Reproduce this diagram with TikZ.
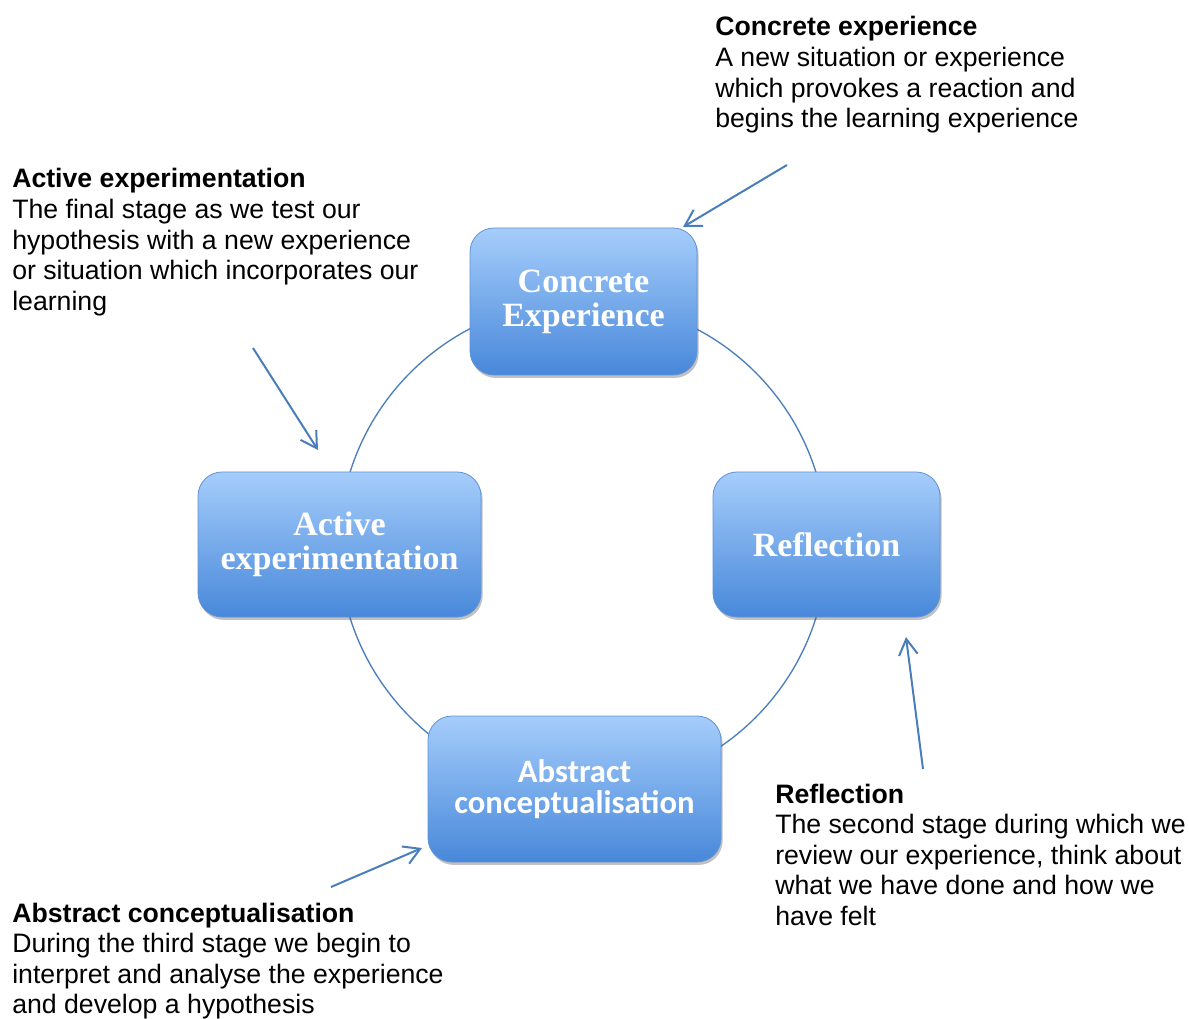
\documentclass[tikz,border=0pt]{standalone}
\usepackage{fontspec}
\setmainfont{Liberation Sans}
\newfontfamily\boxserif{Liberation Serif}
\newfontfamily\boxsans{Carlito}
\usetikzlibrary{arrows.meta,shadows}
\definecolor{lineblue}{RGB}{74,126,187}
\definecolor{boxtop}{RGB}{165,205,251}
\definecolor{boxbot}{RGB}{72,136,218}
\definecolor{boxedge}{RGB}{96,146,212}
\begin{document}
\begin{tikzpicture}[x=0.75pt,y=-0.75pt,
  stage/.style={rounded corners=18pt, draw=boxedge, line width=0.6pt,
    top color=boxtop, bottom color=boxbot, text=white, align=center, inner sep=0pt,
    drop shadow={shadow xshift=1.2pt,shadow yshift=-2.2pt,opacity=0.35,fill=black!70}},
  serifbox/.style={font=\boxserif\bfseries\fontsize{25.5}{25.5}\selectfont},
  sansbox/.style={font=\boxsans\bfseries\fontsize{24.5}{23.3}\selectfont},
  cyc/.style={draw=lineblue, line width=1pt},
  ann/.style={draw=lineblue, line width=1.5pt, -{Straight Barb[length=12pt,width=14pt]}},
  desc/.style={anchor=base west, inner sep=0pt, font=\fontsize{20}{22.9}\selectfont}
]
\useasboundingbox (0,0) rectangle (1189,1019);
% cycle
\coordinate (cyc) at (583,545);
\draw[cyc] (cyc) circle[radius=183pt];
% stages
\node[stage,serifbox,minimum width=170.25pt,minimum height=110.25pt] (ce) at (583.5,301.5) {Concrete\\Experience};
\node[stage,serifbox,minimum width=212.25pt,minimum height=108.75pt] (ae) at (339.5,544.5) {Active\\experimentation};
\node[stage,serifbox,minimum width=170.25pt,minimum height=108.75pt] (re) at (826.5,544.5) {Reflection};
\node[stage,sansbox,minimum width=219.75pt,minimum height=109.5pt] (ac) at (574.5,789) {Abstract\\conceptualisation};
% descriptions
\node[desc] (tce) at (715,36) {\begin{tabular}[t]{@{}l@{}}\textbf{Concrete experience}\\A new situation or experience\\which provokes a reaction and\\begins the learning experience\end{tabular}};
\node[desc] (tae) at (12,188) {\begin{tabular}[t]{@{}l@{}}\textbf{Active experimentation}\\The final stage as we test our\\hypothesis with a new experience\\or situation which incorporates our\\learning\end{tabular}};
\node[desc] (tre) at (775,803) {\begin{tabular}[t]{@{}l@{}}\textbf{Reflection}\\The second stage during which we\\review our experience, think about\\what we have done and how we\\have felt\end{tabular}};
\node[desc] (tac) at (12,922) {\begin{tabular}[t]{@{}l@{}}\textbf{Abstract conceptualisation}\\During the third stage we begin to\\interpret and analyse the experience\\and develop a hypothesis\end{tabular}};
% annotation arrows
\coordinate (a1s) at (787,165); \coordinate (a1e) at (683,227);
\coordinate (a2s) at (253,348); \coordinate (a2e) at (318,450);
\coordinate (a3s) at (923,769); \coordinate (a3e) at (906,637);
\coordinate (a4s) at (331,887); \coordinate (a4e) at (422,848);
\draw[ann] (a1s) -- (a1e);
\draw[ann] (a2s) -- (a2e);
\draw[ann] (a3s) -- (a3e);
\draw[ann] (a4s) -- (a4e);
\end{tikzpicture}
\end{document}
